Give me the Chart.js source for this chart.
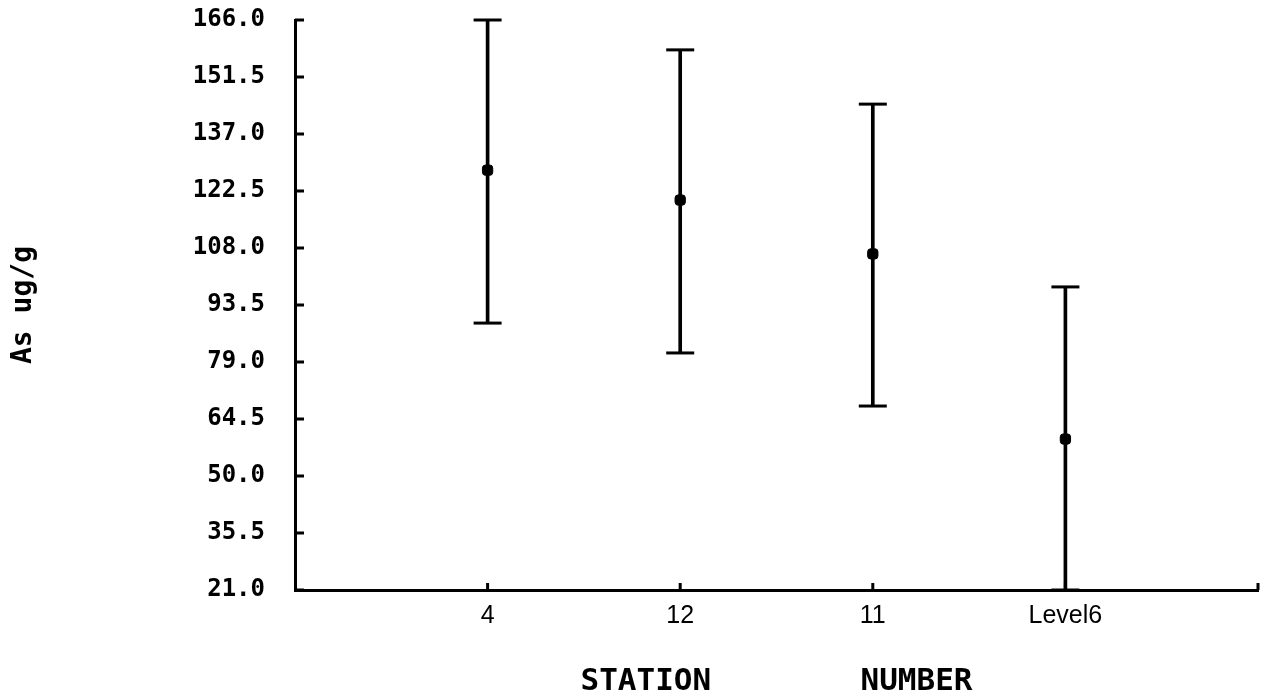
<!DOCTYPE html>
<html>
<head>
<meta charset="utf-8">
<script src="https://cdn.jsdelivr.net/npm/chart.js@4/dist/chart.umd.min.js"></script>
<style>
  html, body { margin: 0; padding: 0; background: #fff; }
  #wrap { width: 1263px; height: 697px; }
</style>
</head>
<body>
<div id="wrap"><canvas id="chart"></canvas></div>
<script>
// Values (As ug/g by station)
const stations = ["4", "12", "11", "Level6"];
const means = [127.8, 120.2, 106.5, 59.4];
const upper = [166.0, 158.4, 144.6, 98.1];
const lower = [88.9, 81.3, 67.8, 21.0];
const yTicks = [21.0, 35.5, 50.0, 64.5, 79.0, 93.5, 108.0, 122.5, 137.0, 151.5, 166.0];

// blank slot at each end of the category axis
const labels = ["", ...stations, ""];
const pad = arr => [null, ...arr, null];

// short tick marks drawn inside the axes
const innerTicks = {
    id: "innerTicks",
    afterDraw(chart) {
        const ctx = chart.ctx;
        const x = chart.scales.x, y = chart.scales.y;
        const area = chart.chartArea;
        ctx.save();
        ctx.strokeStyle = "#000";
        ctx.lineWidth = 3;
        ctx.beginPath();
        yTicks.forEach(v => {
            const py = y.getPixelForValue(v);
            ctx.moveTo(area.left, py);
            ctx.lineTo(area.left + 9, py);
        });
        labels.forEach((l, i) => {
            if (i === 0) return;
            const px = x.getPixelForValue(i);
            ctx.moveTo(px, area.bottom);
            ctx.lineTo(px, area.bottom - 7);
        });
        ctx.stroke();
        ctx.restore();
    }
};

const capStyle = {
    type: "line",
    showLine: false,
    clip: false,
    pointStyle: "line",
    pointRadius: 14,
    pointBorderWidth: 3,
    pointBorderColor: "#000"
};

const ctx = document.getElementById("chart").getContext("2d");
new Chart(ctx, {
    type: "bar",
    data: {
        labels: labels,
        datasets: [
            {
                // whiskers
                data: pad(lower.map((lo, i) => [lo, upper[i]])),
                backgroundColor: "#000",
                borderWidth: 0,
                barThickness: 3,
                clip: false
            },
            Object.assign({ data: pad(upper) }, capStyle),
            Object.assign({ data: pad(lower) }, capStyle),
            {
                type: "line",
                data: pad(means),
                showLine: false,
                clip: false,
                pointStyle: "rectRounded",
                pointRadius: 6,
                pointBackgroundColor: "#000",
                pointBorderColor: "#000"
            }
        ]
    },
    options: {
        responsive: true,
        maintainAspectRatio: false,
        animation: false,
        layout: { autoPadding: false, padding: { top: 20, right: 5, bottom: 0, left: 0 } },
        plugins: { legend: { display: false }, tooltip: { enabled: false } },
        scales: {
            x: {
                type: "category",
                offset: false,
                grid: { display: false, drawTicks: false },
                border: { display: true, color: "#000", width: 3 },
                ticks: {
                    color: "#000",
                    padding: 11,
                    autoSkip: false,
                    maxRotation: 0,
                    font: { family: "Liberation Sans", size: 25 }
                },
                title: {
                    display: true,
                    text: "STATION        NUMBER",
                    color: "#000",
                    padding: { top: 0, bottom: 0 },
                    font: { family: "DejaVu Sans Mono", weight: "bold", size: 31, lineHeight: 1 }
                },
                afterFit: s => {
                    s.height = 107;
                    s.paddingLeft = 0;
                    s.paddingRight = 0;
                }
            },
            y: {
                min: 21,
                max: 166,
                afterBuildTicks: s => { s.ticks = yTicks.map(v => ({ value: v })); },
                grid: { display: false, drawTicks: false },
                border: { display: true, color: "#000", width: 3 },
                ticks: {
                    color: "#000",
                    padding: 30,
                    callback: v => v.toFixed(1),
                    font: { family: "DejaVu Sans Mono", weight: "bold", size: 24 }
                },
                title: {
                    display: true,
                    text: "As ug/g",
                    color: "#000",
                    padding: { top: 10, bottom: 0 },
                    font: { family: "DejaVu Sans Mono", weight: "bold", size: 28, lineHeight: 1 }
                },
                afterFit: s => {
                    s.width = 295;
                    s.paddingTop = 0;
                    s.paddingBottom = 0;
                }
            }
        }
    },
    plugins: [innerTicks]
});
</script>
</body>
</html>
